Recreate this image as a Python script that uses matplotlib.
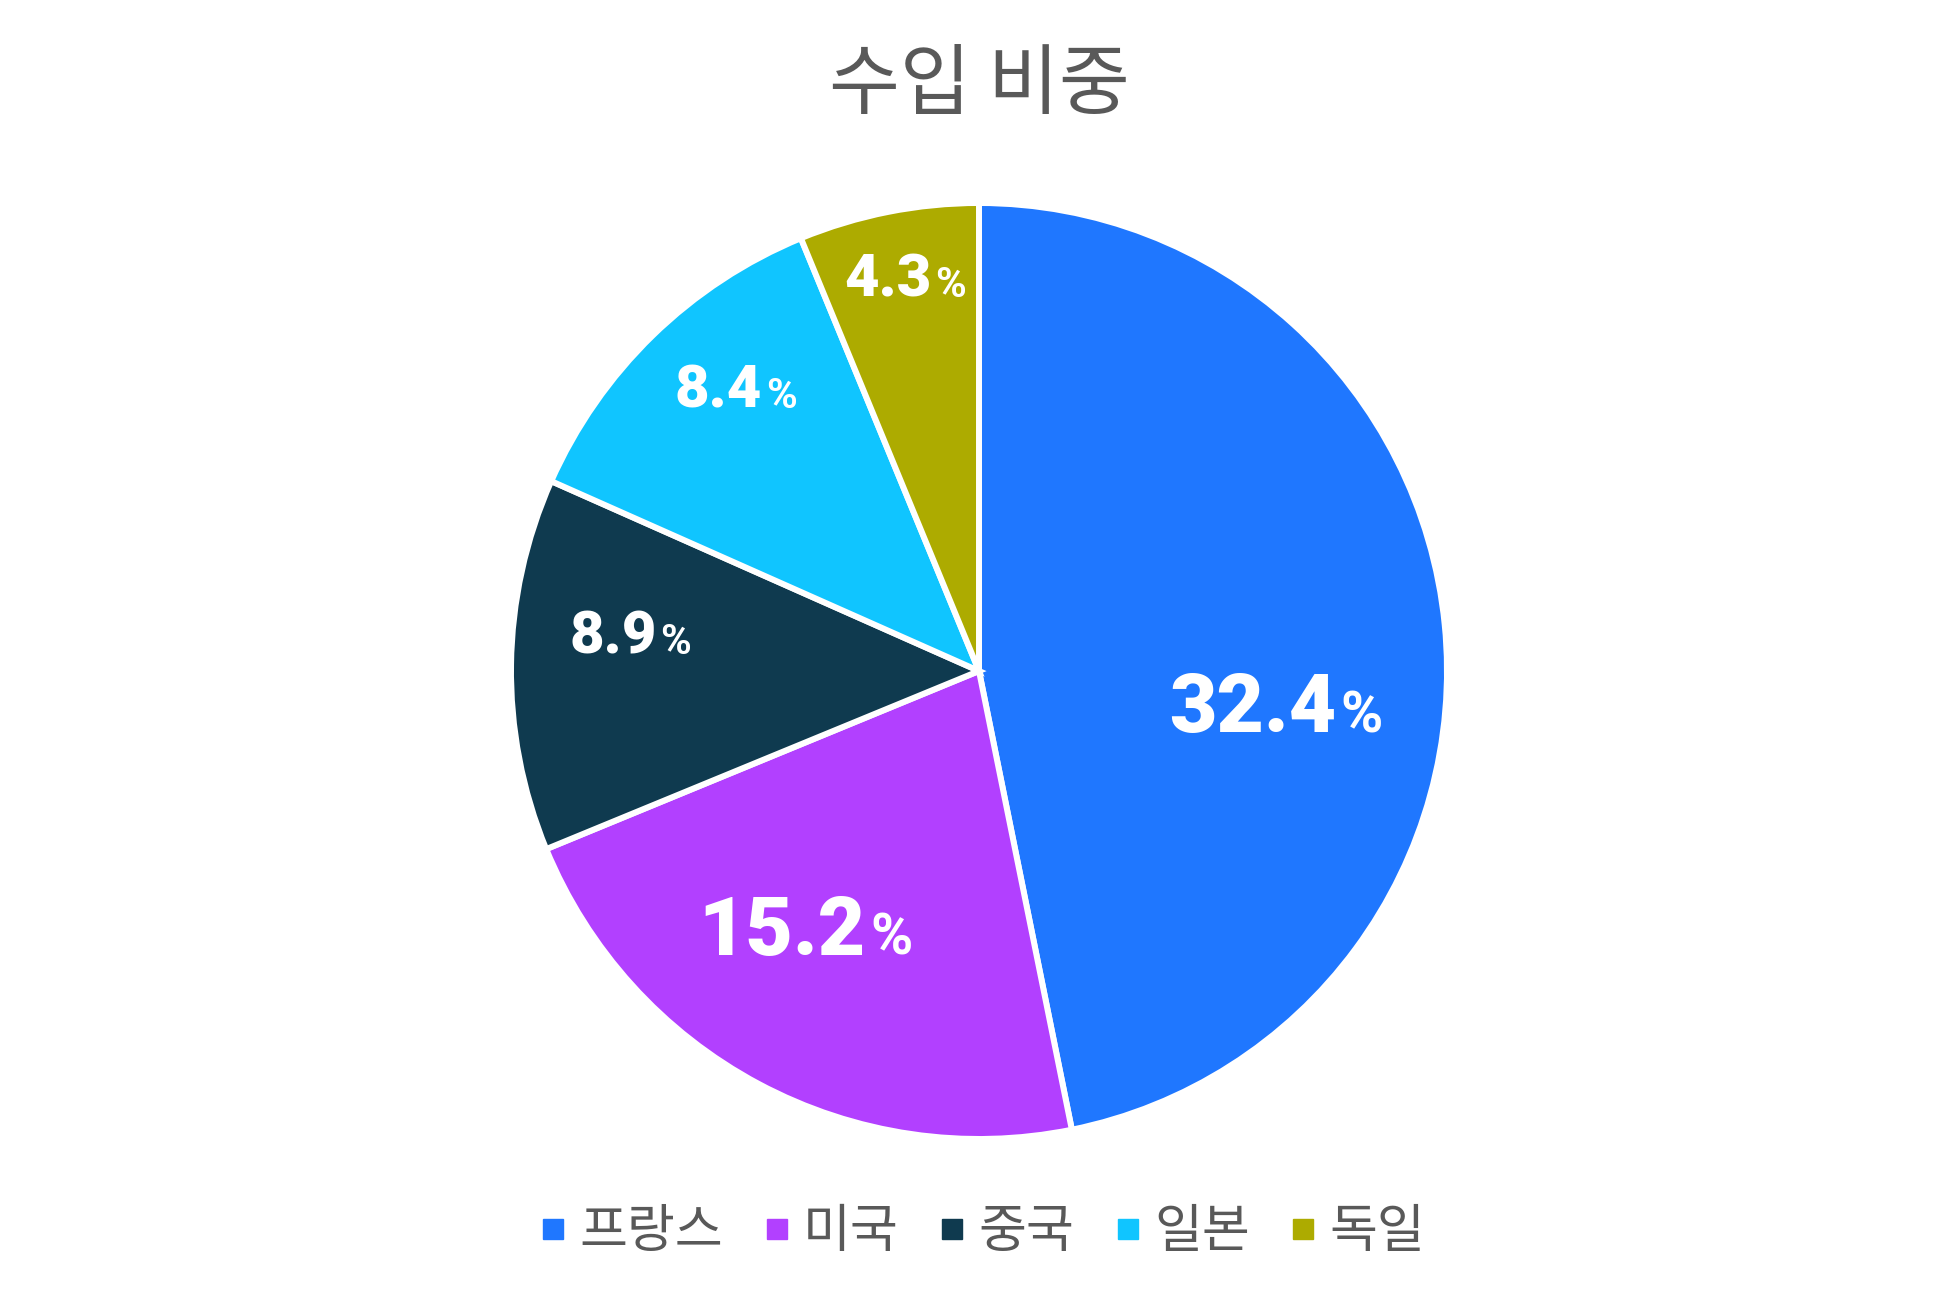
import numpy as np
import matplotlib
matplotlib.use("Agg")
import matplotlib.pyplot as plt
from matplotlib.lines import Line2D
from matplotlib.transforms import IdentityTransform

# ---- data ----
title = "수입 비중"
categories = ["프랑스", "미국", "중국", "일본", "독일"]
values = [32.4, 15.2, 8.9, 8.4, 4.3]

# ---- style ----
colors = ["#1f77ff", "#b240ff", "#0f3a4f", "#10c5ff", "#adab00"]
label_r = [0.638, 0.658, 0.75, 0.80, 0.86]
label_dang = [-11.9, -6.2, -5.5, -3.7, -0.6]
label_fs = [59, 59, 43, 43, 43]
TXT = "#595959"
CJK = ["Noto Sans CJK KR", "DejaVu Sans"]
NUMF = ["Roboto", "DejaVu Sans"]

W, H, DPI = 1953, 1302, 100
fig = plt.figure(figsize=(W / DPI, H / DPI), dpi=DPI)
fig.patch.set_facecolor("white")

cx, cy, R = 979, 671, 468
ax = fig.add_axes([(cx - R) / W, (H - cy - R) / H, 2 * R / W, 2 * R / H])

wedges, _ = ax.pie(values, colors=colors, startangle=90, counterclock=False,
                   radius=1.0, wedgeprops=dict(edgecolor="white", linewidth=4.3))
ax.set_xlim(-1, 1)
ax.set_ylim(-1, 1)
ax.set_aspect("equal")
ax.axis("off")

fig.text(0.5015, 1 - 86 / H, title, ha="center", va="center",
         fontsize=55.5, color=TXT, family=CJK)

# labels
fig.canvas.draw()
r = fig.canvas.get_renderer()
for w, v, lr, da, fs in zip(wedges, values, label_r, label_dang, label_fs):
    mid = np.deg2rad((w.theta1 + w.theta2) / 2 + da)
    px, py = ax.transData.transform((lr * np.cos(mid), lr * np.sin(mid)))
    t1 = fig.text(0, 0, f"{v:.1f}", fontsize=fs, fontweight="black", color="white",
                  family=NUMF, ha="left", va="baseline", transform=IdentityTransform())
    t2 = fig.text(0, 0, "%", fontsize=fs * 0.7, fontweight="bold", color="white",
                  family=NUMF, ha="left", va="baseline", transform=IdentityTransform())
    w1 = t1.get_window_extent(r).width
    w2 = t2.get_window_extent(r).width
    gap = fs * 0.08
    tot = w1 + gap + w2
    cap = 0.711 * fs * DPI / 72
    x0 = px - tot / 2
    y0 = py - cap / 2
    t1.set_position((x0, y0))
    t2.set_position((x0 + w1 + gap, y0))

handles = [Line2D([], [], marker="s", linestyle="none", markersize=14,
                  markerfacecolor=c, markeredgecolor=c) for c in colors]
leg = fig.legend(handles, categories, loc="center", bbox_to_anchor=(0.5035, 1 - 1232 / H),
                 ncol=5, frameon=False, handlelength=0.45, handletextpad=0.28,
                 columnspacing=0.8, prop={"family": CJK, "size": 37.5})
for t in leg.get_texts():
    t.set_color(TXT)

fig.savefig("out.png", dpi=DPI, facecolor="white")
